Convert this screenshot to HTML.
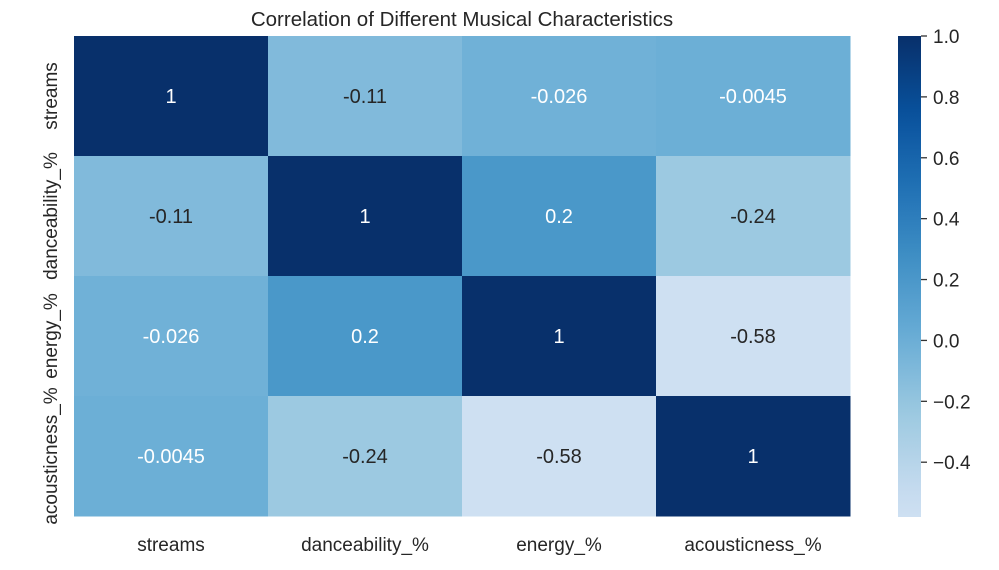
<!DOCTYPE html>
<html><head><meta charset="utf-8"><style>
body{margin:0;background:#fff;}
svg{display:block;font-family:"Liberation Sans",Arial,sans-serif;}
</style></head><body>
<svg id="chart" width="999" height="570" viewBox="0 0 999 570">
<text x="462" y="26" text-anchor="middle" font-size="20.5" fill="#262626">Correlation of Different Musical Characteristics</text>
<g id="cells"></g><g id="ylabels"></g><g id="xlabels"></g>
<defs><linearGradient id="cbgrad" x1="0" y1="1" x2="0" y2="0"></linearGradient></defs>
<rect id="cbar" x="898" y="36" width="23" height="481" fill="url(#cbgrad)"/>
<g id="cbticks"></g>
</svg>
<script>
const labels = ["streams","danceability_%","energy_%","acousticness_%"];
const matrix = [
 [1,-0.11,-0.026,-0.0045],
 [-0.11,1,0.2,-0.24],
 [-0.026,0.2,1,-0.58],
 [-0.0045,-0.24,-0.58,1]];
const annot = [
 ["1","-0.11","-0.026","-0.0045"],
 ["-0.11","1","0.2","-0.24"],
 ["-0.026","0.2","1","-0.58"],
 ["-0.0045","-0.24","-0.58","1"]];
const cbTicks = [1.0,0.8,0.6,0.4,0.2,0.0,-0.2,-0.4];
const cbTickLabels = ["1.0","0.8","0.6","0.4","0.2","0.0","\u22120.2","\u22120.4"];
const vmin=-0.58, vmax=1, center=0;

const NS="http://www.w3.org/2000/svg";
const stops=["#f7fbff","#deebf7","#c6dbef","#9ecae1","#6baed6","#4292c6","#2171b5","#08519c","#08306b"].map(h=>[parseInt(h.slice(1,3),16),parseInt(h.slice(3,5),16),parseInt(h.slice(5,7),16)]);
const span=Math.max(vmax-center,center-vmin);
function cmap(v){let t=(v-(center-span))/(2*span);t=Math.max(0,Math.min(1,t))*(stops.length-1);const i=Math.min(Math.floor(t),stops.length-2),f=t-i;return stops[i].map((c,k)=>Math.round(c+(stops[i+1][k]-c)*f));}
function rgb(c){return `rgb(${c[0]},${c[1]},${c[2]})`;}
function lum(c){const l=c.map(x=>{x/=255;return x<=0.03928?x/12.92:Math.pow((x+0.055)/1.055,2.4)});return 0.2126*l[0]+0.7152*l[1]+0.0722*l[2];}
const X0=74,Y0=36,W=776,H=480;
const n=labels.length, cw=W/n, ch=H/n;
const xs=j=>X0+j*cw, ys=i=>Y0+i*ch;
const cells=document.getElementById('cells');
matrix.forEach((row,i)=>row.forEach((v,j)=>{
 const c=cmap(v);
 const r=document.createElementNS(NS,'rect');
 r.setAttribute('x',xs(j));r.setAttribute('y',ys(i));r.setAttribute('width',cw+0.5);r.setAttribute('height',ch+0.5);r.setAttribute('fill',rgb(c));
 
 
 cells.appendChild(r);
 const t=document.createElementNS(NS,'text');
 t.setAttribute('x',xs(j)+cw/2);t.setAttribute('y',ys(i)+ch/2+7);t.setAttribute('text-anchor','middle');t.setAttribute('font-size','20');
 t.setAttribute('fill',lum(c)>0.408?'#262626':'#ffffff');
 t.textContent=annot[i][j];
 
 
 cells.appendChild(t);
}));
const yl=document.getElementById('ylabels'),xl=document.getElementById('xlabels');
labels.forEach((l,i)=>{
 const t=document.createElementNS(NS,'text');
 const cy=ys(i)+ch/2;
 t.setAttribute('transform',`translate(57,${cy}) rotate(-90)`);t.setAttribute('text-anchor','middle');t.setAttribute('font-size','19');t.setAttribute('fill','#262626');
 t.textContent=l;
 
 
 yl.appendChild(t);
 const u=document.createElementNS(NS,'text');
 u.setAttribute('x',xs(i)+cw/2);u.setAttribute('y',551);u.setAttribute('text-anchor','middle');u.setAttribute('font-size','19');u.setAttribute('fill','#262626');
 u.textContent=l;
 
 
 xl.appendChild(u);
});
const grad=document.getElementById('cbgrad');
for(let k=0;k<=20;k++){const v=vmin+(vmax-vmin)*k/20;const s=document.createElementNS(NS,'stop');s.setAttribute('offset',k/20);s.setAttribute('stop-color',rgb(cmap(v)));grad.appendChild(s);}
const CB0=36,CBH=481;
const cy=v=>CB0+(vmax-v)/(vmax-vmin)*CBH;
const cbt=document.getElementById('cbticks');
cbTicks.forEach((v,k)=>{
 const y=cy(v);
 const ln=document.createElementNS(NS,'line');
 ln.setAttribute('x1',921);ln.setAttribute('x2',927);ln.setAttribute('y1',y);ln.setAttribute('y2',y);ln.setAttribute('stroke','#333');ln.setAttribute('stroke-width','1.3');
 
 
 cbt.appendChild(ln);
 const t=document.createElementNS(NS,'text');
 t.setAttribute('x',933);t.setAttribute('y',y+7);t.setAttribute('font-size','19');t.setAttribute('fill','#262626');
 t.textContent=cbTickLabels[k];
 
 
 cbt.appendChild(t);
});
</script>
</body></html>
